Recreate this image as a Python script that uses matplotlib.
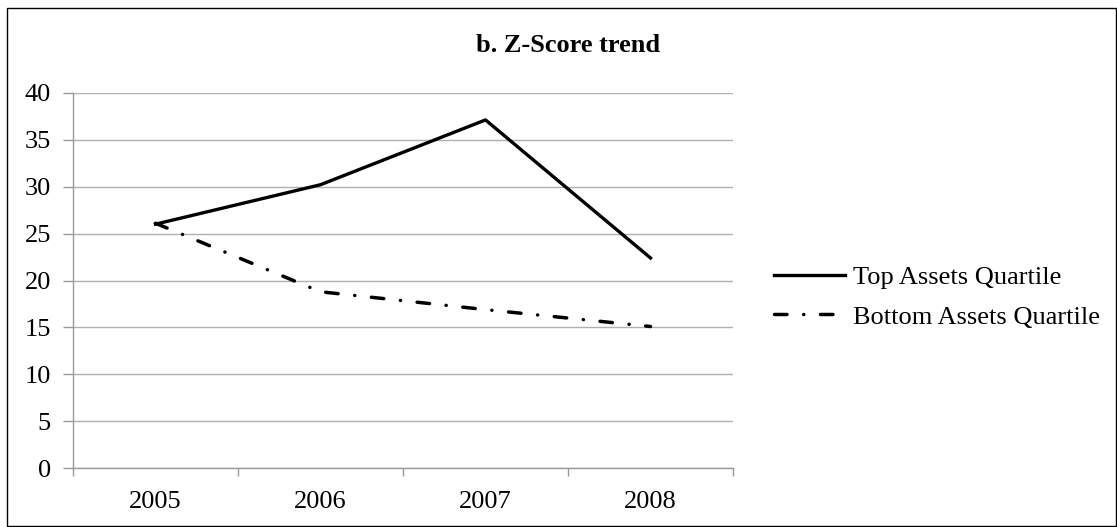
import matplotlib
matplotlib.use("Agg")
import matplotlib.pyplot as plt
from matplotlib.patches import Rectangle

plt.rcParams['font.family'] = ['Liberation Serif', 'DejaVu Serif']
plt.rcParams['lines.scale_dashes'] = False

years = ['2005', '2006', '2007', '2008']
top_quartile = [26.0, 30.2, 37.1, 22.4]
bottom_quartile = [26.1, 18.8, 16.9, 15.1]

fig = plt.figure(figsize=(11.17, 5.27), dpi=100)
ax = fig.add_axes([73 / 1117, 1 - 468.3 / 527, 660 / 1117, 375.6 / 527])

x = list(range(len(years)))
ax.plot(x, top_quartile, color='black', lw=2.4, solid_joinstyle='round',
        label='Top Assets Quartile')
ax.plot(x, bottom_quartile, color='black', lw=2.5, dashes=[9, 12, 0.1, 12],
        dash_capstyle='round', label='Bottom Assets Quartile')

ax.set_xlim(-0.5, 3.5)
ax.set_ylim(0, 40)
ax.set_yticks(range(0, 41, 5))
ax.set_xticks(x)
ax.set_xticklabels(years)
ax.set_xticks([i - 0.5 for i in range(len(years) + 1)], minor=True)
ax.tick_params(axis='x', which='major', length=0, pad=16, labelsize=19)
ax.tick_params(axis='x', which='minor', length=6, color='#999999', width=1)
ax.tick_params(axis='y', length=7, color='#999999', width=1, pad=9, labelsize=19)

ax.grid(axis='y', color='#b0b0b0', lw=1)
ax.set_axisbelow(True)
for side in ['top', 'right']:
    ax.spines[side].set_visible(False)
for side in ['left', 'bottom']:
    ax.spines[side].set_color('#999999')
    ax.spines[side].set_linewidth(1)

fig.text(568 / 1117, 1 - 45 / 527, 'b. Z-Score trend', ha='center', va='center',
         fontsize=19, fontweight='bold')

fig.legend(loc='center left', bbox_to_anchor=(750 / 1117, 1 - 297 / 527),
           frameon=False, fontsize=19, handlelength=2.7, handletextpad=0.3,
           labelspacing=0.62)

fig.add_artist(Rectangle((6.5 / 1117, 1 / 527), 1109 / 1117, 518 / 527,
                         transform=fig.transFigure, fill=False,
                         edgecolor='black', lw=1))

fig.savefig('out.png', dpi=100)
